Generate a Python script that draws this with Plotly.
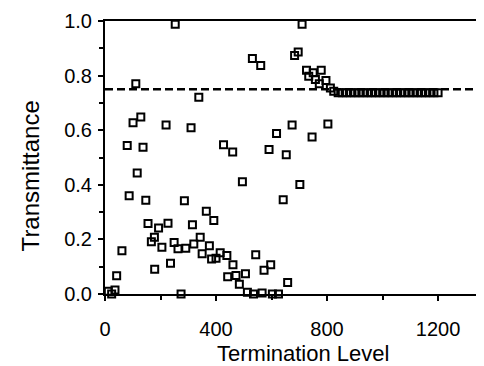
import plotly.graph_objects as go

# Scattered measurements (termination level, transmittance)
termination_level = [
    253, 710, 111, 531, 561, 683, 696, 338, 101, 129, 220, 310, 618, 674,
    80, 137, 427, 460, 591, 653, 803, 746, 116, 495, 702, 87, 147, 286, 642,
    365, 392, 155, 193, 227, 315, 178, 167, 249, 343, 61, 205, 263, 291, 320,
    376, 350, 384, 400, 415, 439, 543, 236, 461, 597, 573, 42, 179, 442, 472,
    506, 484, 658, 12, 36, 24, 274, 513, 535, 566, 603, 625,
    726, 734, 750, 779, 758, 772, 796, 812, 824,
    840, 855, 870, 885, 900, 915, 930, 945, 960, 975, 990, 1005, 1020,
    1035, 1050, 1065, 1080, 1095, 1110, 1125, 1140, 1155, 1170, 1185, 1200,
]
transmittance = [
    0.988, 0.988, 0.770, 0.863, 0.837, 0.874, 0.886, 0.721, 0.627, 0.648,
    0.619, 0.609, 0.588, 0.619, 0.544, 0.538, 0.547, 0.520, 0.529, 0.510,
    0.623, 0.575, 0.443, 0.411, 0.401, 0.360, 0.343, 0.342, 0.345, 0.303,
    0.269, 0.258, 0.242, 0.259, 0.254, 0.208, 0.191, 0.189, 0.208, 0.158,
    0.171, 0.166, 0.168, 0.183, 0.177, 0.147, 0.128, 0.131, 0.151, 0.141,
    0.144, 0.113, 0.107, 0.107, 0.087, 0.067, 0.091, 0.063, 0.068, 0.074,
    0.036, 0.042, 0.010, 0.015, 0.000, 0.000, 0.006, 0.000, 0.004, 0.000,
    0.000,
    0.820, 0.798, 0.810, 0.820, 0.786, 0.770, 0.782, 0.755, 0.743,
    0.737, 0.737, 0.737, 0.737, 0.737, 0.737, 0.737, 0.737, 0.737, 0.737,
    0.737, 0.737, 0.737, 0.737, 0.737, 0.737, 0.737, 0.737, 0.737, 0.737,
    0.737, 0.737, 0.737, 0.737, 0.737,
]

reference_level = 0.75  # dashed horizontal line

x_tick_values = [0, 400, 800, 1200]
x_tick_labels = ["0", "400", "800", "1200"]
y_tick_values = [0.0, 0.2, 0.4, 0.6, 0.8, 1.0]
y_tick_labels = ["0.0", "0.2", "0.4", "0.6", "0.8", "1.0"]

FONT = "Liberation Sans, Arial, sans-serif"

fig = go.Figure()
fig.add_trace(go.Scatter(
    x=termination_level, y=transmittance, mode="markers",
    marker=dict(symbol="square-open", size=7, color="black", line=dict(width=2)),
    cliponaxis=False, showlegend=False,
))

fig.add_shape(type="line", xref="paper", yref="y", x0=0, x1=1,
              y0=reference_level, y1=reference_level,
              line=dict(color="black", width=2.5, dash="8px,4px"))

fig.update_layout(
    width=484, height=366,
    margin=dict(l=97, r=0, t=13, b=80),
    plot_bgcolor="white", paper_bgcolor="white",
    font=dict(family=FONT, color="black", size=20),
    xaxis=dict(
        range=[0, 1387], showgrid=False, zeroline=False,
        showline=True, linecolor="black", linewidth=2, mirror=True,
        ticks="outside", ticklen=5, tickwidth=2, tickcolor="black",
        tickvals=x_tick_values, ticktext=x_tick_labels,
        ticklabelstandoff=11,
        minor=dict(dtick=200, ticks="outside", ticklen=4, tickwidth=2, tickcolor="black"),
        tickfont=dict(size=20),
    ),
    yaxis=dict(
        range=[0, 1.0], showgrid=False, zeroline=False,
        showline=True, linecolor="black", linewidth=2, mirror=True,
        ticks="outside", ticklen=5, tickwidth=2, tickcolor="black",
        tickvals=y_tick_values, ticktext=y_tick_labels,
        ticklabelstandoff=2,
        minor=dict(dtick=0.1, ticks="outside", ticklen=4, tickwidth=2, tickcolor="black"),
        tickfont=dict(size=20),
    ),
    annotations=[
        dict(text="Termination Level", xref="paper", yref="paper",
             x=(296 - 97) / 387, y=-(345 - 286) / 273, xanchor="center", yanchor="middle",
             showarrow=False, font=dict(size=22)),
        dict(text="Transmittance", xref="paper", yref="paper",
             x=-(97 - 22) / 387, y=(286 - 168) / 273, xanchor="center", yanchor="middle",
             textangle=-90, showarrow=False, font=dict(size=24)),
    ],
)

fig.write_html("out.html")
